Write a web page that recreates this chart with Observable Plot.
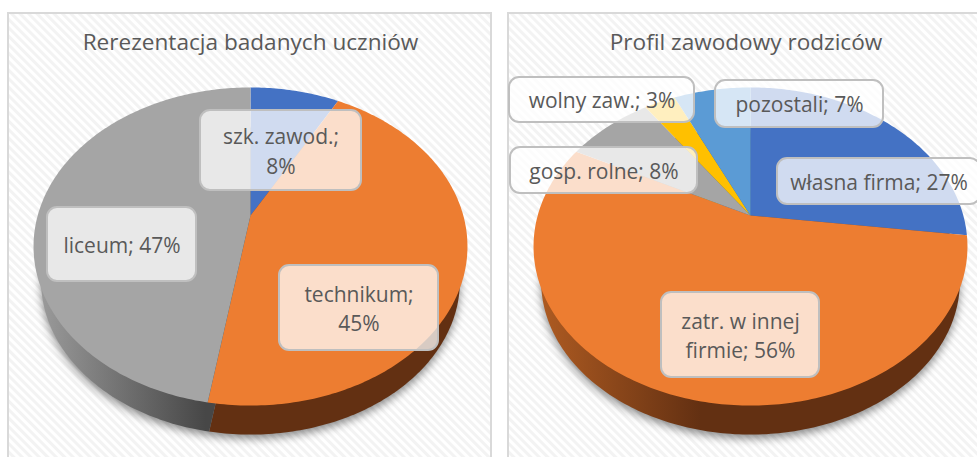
<!DOCTYPE html>
<html lang="pl">
<head>
<meta charset="utf-8">
<script src="https://cdn.jsdelivr.net/npm/d3@7"></script>
<script src="https://cdn.jsdelivr.net/npm/@observablehq/plot@0.6"></script>
<style>
html,body{margin:0;padding:0;background:#fff;width:977px;height:457px;overflow:hidden}
#chart{display:flex;width:977px;height:457px}
svg{display:block;flex:none}
</style>
</head>
<body>
<div id="chart"></div>
<script>
// ---- data ----
const studentTitle = "Rerezentacja badanych uczniów";
const studentCategories = ["szk. zawod.", "technikum", "liceum"];
const studentShares = [8, 44.6, 47.4];
const studentLabels = ["szk. zawod.;\n8%", "technikum;\n45%", "liceum; 47%"];
const studentColors = ["#4472c4", "#ed7d31", "#a5a5a5"];

const parentTitle = "Profil zawodowy rodziców";
const parentCategories = ["własna firma", "zatr. w innej firmie", "gosp. rolne", "wolny zaw.", "pozostali"];
const parentShares = [27, 55.5, 7.8, 2.8, 6.9];
const parentLabels = ["własna firma; 27%", "zatr. w innej\nfirmie; 56%", "gosp. rolne; 8%", "wolny zaw.; 3%", "pozostali; 7%"];
const parentColors = ["#4472c4", "#ed7d31", "#a5a5a5", "#ffc000", "#5b9bd5"];

// ---- label boxes: [left, right, top, bottom], relative to the pie's centre, y upward ----
const studentBoxes = [[-50, 111, 105, 25], [29, 188, -50, -135], [-203, -54, 8, -66]];
const parentBoxes = [[27, 230, 57, 11], [-89, 69, -77, -162], [-240, -53, 68, 22], [-241, -56, 138, 93], [-35, 133, 135, 88]];

// ---- perspective of the tilted pie ----
const RX = 212.8, RY = 153, K = 0.195, SCALE = 0.965, VANISH = -1019;
const TOP = 215, HEIGHT = 457;

const project = ([u, v]) => [RX * u / (1 + K * v), RY * v / (1 + K * v)];
const lower = ([x, y]) => [SCALE * x, VANISH + SCALE * (y - VANISH)];
function sector(from, to) {
  const pts = [[0, 0]];
  const n = Math.max(2, Math.ceil((to - from) * 4));
  for (let i = 0; i <= n; i++) {
    const t = (from + (to - from) * i / n) / 100 * 2 * Math.PI;
    pts.push(project([Math.sin(t), Math.cos(t)]));
  }
  return pts;
}

function pie({title, shares, labels, colors, boxes, left, width, titleX, wallFills, idp}) {
  const starts = d3.cumsum([0, ...shares]);
  const slices = shares.map((s, i) => sector(starts[i], starts[i + 1]));
  const line = (pts, o) => Plot.line(pts, {x: d => d[0], y: d => d[1], curve: "linear", stroke: "none", ...o});
  const defs = () => {
    const g = d3.create("svg:defs");
    g.html(`
      <pattern id="${idp}hatch" width="6" height="6" patternUnits="userSpaceOnUse" patternTransform="rotate(45)">
        <rect width="6" height="6" fill="#ffffff"/><rect width="6" height="3" fill="#f3f3f3"/>
      </pattern>
      <linearGradient id="${idp}wallg" gradientUnits="userSpaceOnUse" x1="40" x2="205" y1="0" y2="0">
        <stop offset="0" stop-color="#9a9a9a"/><stop offset="1" stop-color="#474747"/>
      </linearGradient>
      <linearGradient id="${idp}wallo" gradientUnits="userSpaceOnUse" x1="35" x2="200" y1="0" y2="0">
        <stop offset="0" stop-color="#b05c22"/><stop offset="1" stop-color="#633012"/>
      </linearGradient>`);
    return g.node();
  };
  const whole = sector(0, 100).slice(1);
  const rows = boxes.map((b, i) => ({x1: b[0], x2: b[1], y1: b[2], y2: b[3], label: labels[i]}));
  return Plot.plot({
    width, height: HEIGHT, margin: 0,
    x: {axis: null, domain: [-left, width - left], range: [0, width]},
    y: {axis: null, domain: [TOP, TOP - HEIGHT], range: [0, HEIGHT]},
    marks: [
      defs,
      Plot.rect([0], {x1: -242, x2: 241 + (width > 490 ? 0 : 300), y1: 202, y2: -260, fill: `url(#${idp}hatch)`, stroke: "#d9d9d9", strokeWidth: 2}),
      line(whole.map(lower).map(([x, y]) => [x, y - 4]), {fill: "#000", fillOpacity: 0.45, imageFilter: "blur(4px)"}),
      ...slices.map((s, i) => line(s.map(lower), {fill: wallFills[i]})),
      ...slices.map((s, i) => line(s, {fill: colors[i]})),
      Plot.rect(rows, {x1: "x1", x2: "x2", y1: "y1", y2: "y2", rx: 10, fill: "#fff", fillOpacity: 0.75, stroke: "#bfbfbf", strokeWidth: 2}),
      Plot.text(rows, {x: d => (d.x1 + d.x2) / 2, y: d => (d.y1 + d.y2) / 2, text: "label", fill: "#595959", fontSize: 21, lineHeight: 1.4, lineAnchor: "middle", dy: -1, fontFamily: "Open Sans"}),
      Plot.text([title], {x: titleX, y: 173, text: d => d, fill: "#595959", fontSize: 22.6, lineAnchor: "middle", fontFamily: "Open Sans"})
    ]
  });
}

const root = document.getElementById("chart");
root.append(pie({
  title: studentTitle, shares: studentShares, labels: studentLabels, colors: studentColors,
  boxes: studentBoxes, left: 250, width: 500, titleX: 0, idp: "a",
  wallFills: ["#2a4576", "#633012", "url(#awallg)"]
}));
root.append(pie({
  title: parentTitle, shares: parentShares, labels: parentLabels, colors: parentColors,
  boxes: parentBoxes, left: 250, width: 477, titleX: -4.5, idp: "b",
  wallFills: ["#2a4576", "url(#bwallo)", "#646464", "#997300", "#366092"]
}));
</script>
</body>
</html>
